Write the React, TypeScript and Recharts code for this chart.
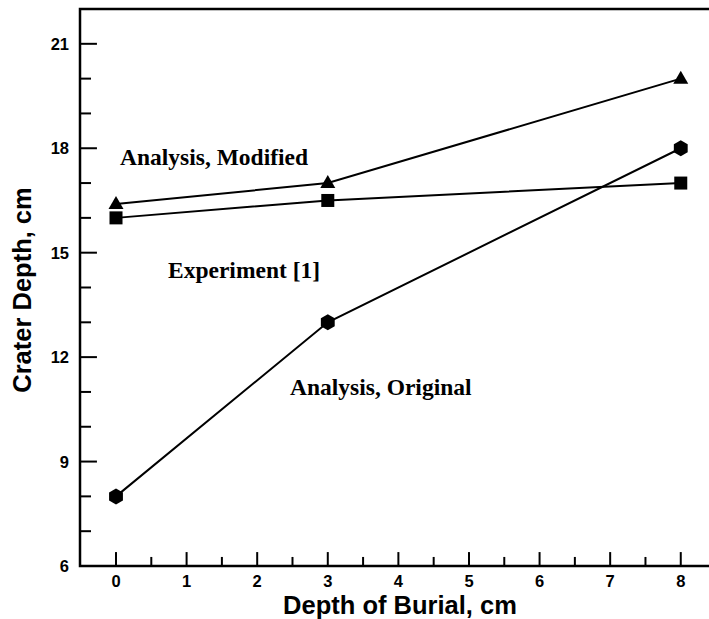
import React from "react";
import { LineChart, Line, XAxis, YAxis, ReferenceLine, ReferenceArea } from "recharts";

const burial = [0, 3, 8];
const modified = [16.4, 17, 20];
const experiment = [16, 16.5, 17];
const original = [8, 13, 18];
const xTicks = [0, 1, 2, 3, 4, 5, 6, 7, 8];
const xMinor = [0.5, 1.5, 2.5, 3.5, 4.5, 5.5, 6.5, 7.5];
const yTicks = [6, 9, 12, 15, 18, 21];
const yMinor = [7, 8, 10, 11, 13, 14, 16, 17, 19, 20];
const X0 = -0.51, X1 = 8.4, Y0 = 6, Y1 = 22;

const data = burial.map((b, i) => ({ b, mod: modified[i], exp: experiment[i], orig: original[i] }));

const Tri = (p: any) => <path d={`M${p.cx},${p.cy - 8}L${p.cx + 7.5},${p.cy + 5}L${p.cx - 7.5},${p.cy + 5}Z`} fill="#000" />;
const Sq = (p: any) => <rect x={p.cx - 6.5} y={p.cy - 6.5} width={13} height={13} fill="#000" />;
const Hex = (p: any) => {
  const pts = [0, 1, 2, 3, 4, 5].map(k => { const a = Math.PI / 3 * k + Math.PI / 6; return `${p.cx + 8 * Math.cos(a)},${p.cy + 8 * Math.sin(a)}`; }).join(" ");
  return <polygon points={pts} fill="#000" />;
};

const FONT = "'Liberation Sans', Arial, sans-serif";
const XTick = (p: any) => (
  <text x={p.x} y={587} textAnchor="middle" fontFamily={FONT} fontWeight="bold" fontSize={16.5} fill="#000">{p.payload.value}</text>
);
const YTick = (p: any) => (
  <text x={69} y={p.y + 6} textAnchor="end" fontFamily={FONT} fontWeight="bold" fontSize={16.5} fill="#000">{p.payload.value}</text>
);

const lab: React.CSSProperties = { position: "absolute", fontFamily: "'Times New Roman', 'Liberation Serif', serif", fontWeight: "bold", fontSize: 23.5, whiteSpace: "nowrap", lineHeight: "27px" };
const title: React.CSSProperties = { position: "absolute", fontFamily: FONT, fontWeight: "bold", fontSize: 25.5, whiteSpace: "nowrap", lineHeight: "22px" };

export default function App() {
  return (
    <div style={{ position: "absolute", left: 0, top: 0, width: 709, height: 619, background: "#fff", overflow: "hidden" }}>
      <LineChart width={709} height={619} data={data} margin={{ top: 9, right: 0, bottom: 23, left: 40 }}>
        <XAxis dataKey="b" type="number" domain={[X0, X1]} ticks={xTicks} tickLine={false} axisLine={false} tick={<XTick />} height={30} allowDataOverflow />
        <YAxis type="number" domain={[Y0, Y1]} ticks={yTicks} tickLine={false} axisLine={false} tick={<YTick />} width={40} allowDataOverflow />
        <ReferenceArea x1={X0} x2={X1 + 1} y1={Y0} y2={Y1} stroke="#000" strokeWidth={2.5} fill="none" fillOpacity={0} ifOverflow="visible" />
        {xTicks.map(t => <ReferenceLine key={"xb" + t} segment={[{ x: t, y: Y0 }, { x: t, y: Y0 + 0.4 }]} stroke="#000" strokeWidth={2} />)}
        {xMinor.map(t => <ReferenceLine key={"xm" + t} segment={[{ x: t, y: Y0 }, { x: t, y: Y0 + 0.26 }]} stroke="#000" strokeWidth={2} />)}
        {yTicks.map(t => <ReferenceLine key={"yl" + t} segment={[{ x: X0, y: t }, { x: X0 + 0.24, y: t }]} stroke="#000" strokeWidth={2} />)}
        {yMinor.map(t => <ReferenceLine key={"ym" + t} segment={[{ x: X0, y: t }, { x: X0 + 0.156, y: t }]} stroke="#000" strokeWidth={2} />)}
        <Line dataKey="mod" stroke="#000" strokeWidth={2} dot={<Tri />} isAnimationActive={false} />
        <Line dataKey="exp" stroke="#000" strokeWidth={2} dot={<Sq />} isAnimationActive={false} />
        <Line dataKey="orig" stroke="#000" strokeWidth={2} dot={<Hex />} isAnimationActive={false} />
      </LineChart>
      <div style={{ ...lab, left: 120, top: 144 }}>Analysis, Modified</div>
      <div style={{ ...lab, left: 168, top: 257 }}>Experiment [1]</div>
      <div style={{ ...lab, left: 290, top: 374 }}>Analysis, Original</div>
      <div style={{ ...title, left: 22, top: 290, transform: "translate(-50%,-50%) rotate(-90deg)" }}>Crater Depth, cm</div>
      <div style={{ ...title, left: 400, top: 605, transform: "translate(-50%,-50%)" }}>Depth of Burial, cm</div>
    </div>
  );
}
